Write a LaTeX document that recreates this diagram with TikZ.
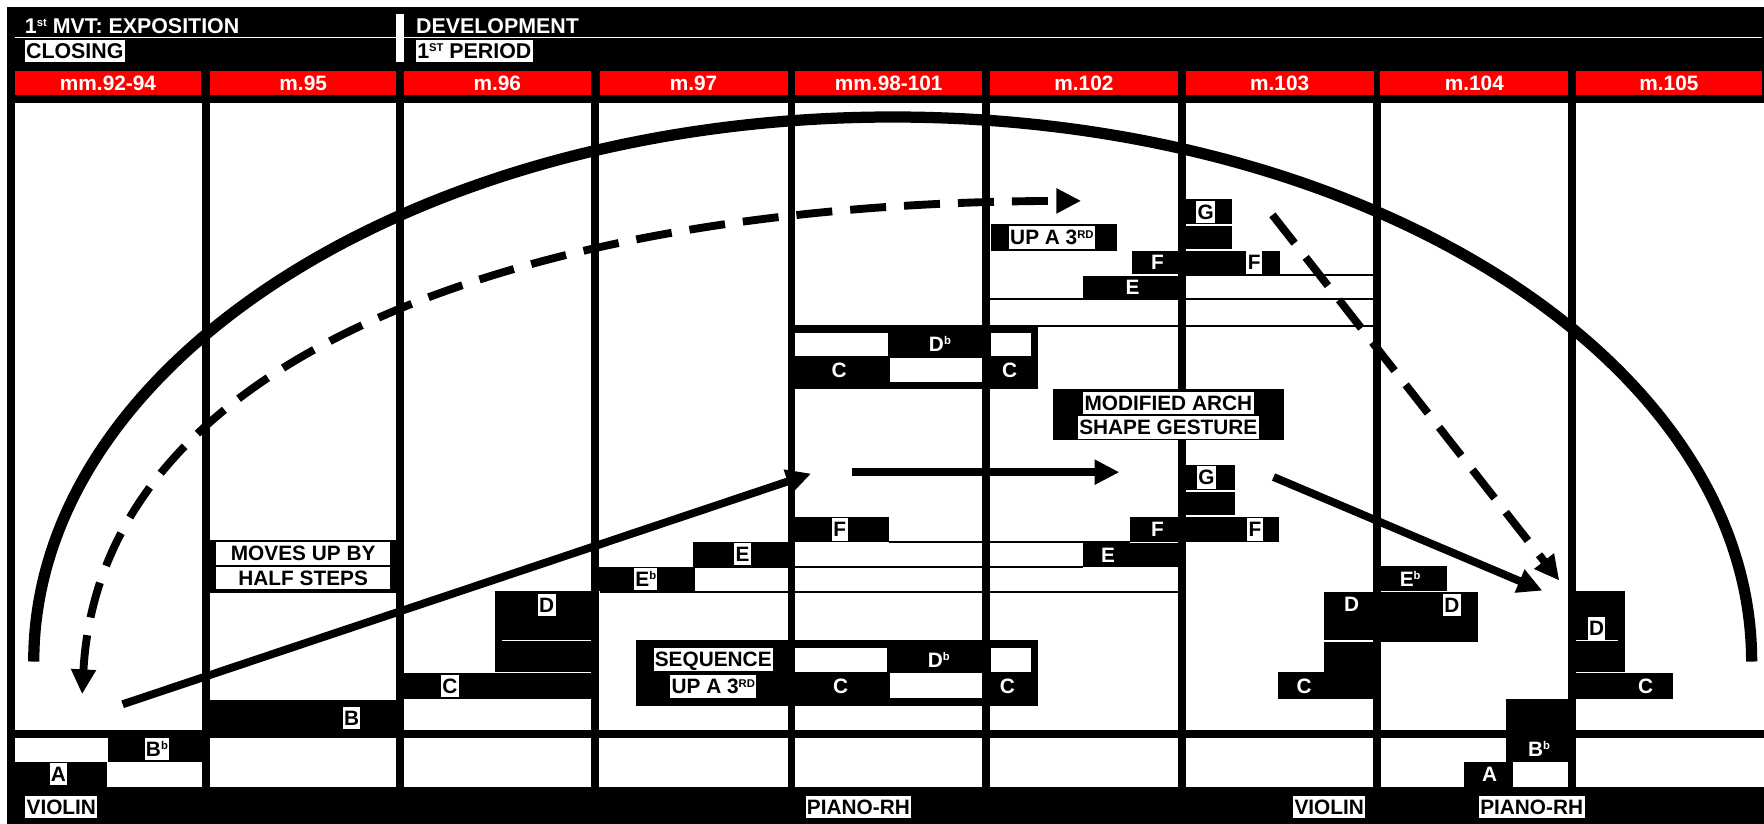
\documentclass[tikz,border=0pt]{standalone}
\usepackage{fontspec}
\setmainfont{Liberation Sans}
\usetikzlibrary{arrows.meta}
\newcommand{\supr}[1]{\raisebox{6pt}{\fontsize{10}{10}\selectfont #1}}
\newcommand{\lf}{\fontsize{18.5}{20}\selectfont\bfseries}
\begin{document}
\begin{tikzpicture}[x=1pt,y=-1pt,
  wl/.style={fill=white,text=black,font=\lf,inner xsep=1.2pt,inner ysep=3.3pt,text height=13.3pt,text depth=0pt},
  bl/.style={text=white,font=\lf,inner xsep=1pt,inner ysep=3.3pt,text height=13.3pt,text depth=0pt},
  hd/.style={text=white,font=\fontsize{19}{20}\selectfont\bfseries,anchor=base west,inner sep=0pt},
  hw/.style={fill=white,text=black,font=\fontsize{19}{20}\selectfont\bfseries,anchor=west,inner xsep=1pt,inner ysep=2.8pt,text height=13.6pt,text depth=0pt},
  thinl/.style={line width=1.6pt},
  arr/.style={line width=7pt,-{Triangle[length=22pt,width=21pt]}},
  darr/.style={line width=7pt,dash pattern=on 32pt off 16pt},
]
\useasboundingbox (0,0) rectangle (1568,732);
\fill[white] (0,0) rectangle (1568,732);
% ---------- header ----------
\fill[black] (6,6) rectangle (1568,91.3);
\fill[white] (13,32.5) rectangle (1566,34);
\fill[white] (352,12.4) rectangle (359,54.8);
\node[hd] (h1) at (22,29.6) {1\supr{st} MVT: EXPOSITION};
\node[hd] (h2) at (369.7,29.6) {DEVELOPMENT};
\node[hw] (h3) at (22,45.2) {CLOSING};
\node[hw] (h4) at (369.7,45.2) {1\supr{ST} PERIOD};
\foreach \a/\b/\t in {13/179/mm.92-94, 187/352/m.95, 359/525/m.96, 533/700/m.97, 707/873/mm.98-101, 880/1047/m.102, 1054/1221/m.103, 1227/1394/m.104, 1401/1566/m.105}{
  \fill[red] (\a,63.1) rectangle (\b,84.4);
  \node[bl,inner ysep=0pt] (red\a) at ({(\a+\b)/2},73.75) {\t};
}
% ---------- frame ----------
\fill[black] (6,84) rectangle (13,732);
\fill[black] (6,648.9) rectangle (1568,655.6);
\fill[black] (6,699.5) rectangle (1568,732);
% ---------- lower blocks ----------
\fill[black] (13,677) rectangle (95,699.5);
\fill[black] (96,655.4) rectangle (183,677);
\fill[black] (183,622) rectangle (355,649);
\fill[black] (355,598.5) rectangle (529,621);
\fill[black] (440,525.3) rectangle (529,597.5);
\fill[white] (446,568.5) rectangle (526,569.8);
\fill[white] (440,597) rectangle (526,598.5);
\fill[black] (529,503.7) rectangle (618,525.5);
\fill[black] (616,481.5) rectangle (703,503.7);
\fill[black] (703,459.8) rectangle (790,481.5);
% sequence block
\fill[black] (565,569) rectangle (923,627.5);
\fill[white] (706.6,576.3) rectangle (788.7,597);
\fill[white] (880.6,576.3) rectangle (916,597);
\fill[white] (791,598.5) rectangle (873,620.7);
% upper sequence block
\fill[black] (703,289) rectangle (923,346);
\fill[white] (706.6,295.7) rectangle (789.6,316.2);
\fill[white] (880.6,295.7) rectangle (916,316.2);
\fill[white] (791,318) rectangle (873,339.3);
% upper right blocks
\fill[black] (880.5,199.4) rectangle (992.5,222.8);
\fill[black] (1054,177.2) rectangle (1095,199.4);
\fill[black] (1054,200.9) rectangle (1095,221.3);
\fill[black] (1006,222.8) rectangle (1047.4,243.6);
\fill[black] (1054,222.8) rectangle (1138,243.6);
\fill[black] (963,245) rectangle (1047.4,265.8);
\draw[thinl] (1054,244.3) -- (1224,244.3);
\draw[thinl] (880,266) -- (1224,266);
\draw[thinl] (923,289.7) -- (1224,289.7);
% modified arch box
\fill[black] (936,346) rectangle (1141,391);
% lower right blocks
\fill[black] (1053.3,413.3) rectangle (1097.8,435.5);
\fill[black] (1053.3,437) rectangle (1097.8,457.8);
\fill[black] (1004,459.8) rectangle (1047,481.5);
\fill[black] (1053.3,459.8) rectangle (1137.2,481.5);
\fill[black] (963,482.3) rectangle (1053,503.7);
\draw[thinl] (790,481.5) -- (1004,481.5);
\draw[thinl] (617,503.7) -- (963,503.7);
\draw[thinl] (533,525.9) -- (1050,525.9);
\fill[black] (1221,503.1) rectangle (1286,525.4);
\fill[black] (1177,526) rectangle (1224,569);
\fill[black] (1224,526) rectangle (1314,570.4);
\fill[black] (1177,570.4) rectangle (1224,597);
\fill[white] (1184,568.5) rectangle (1221,569.8);
\fill[black] (1136.3,597.6) rectangle (1224,621.6);
\fill[black] (1338.6,621.6) rectangle (1397,649);
\fill[black] (1338.6,655.4) rectangle (1397,677);
\fill[black] (1301.7,677) rectangle (1344.8,699.5);
\fill[black] (1397,525.4) rectangle (1444.4,597);
\fill[white] (1401,568.5) rectangle (1438,569.8);
\fill[white] (1401,597) rectangle (1444,598.5);
\fill[black] (1397,598.5) rectangle (1487.4,621.6);
% moves box
\fill[black] (187,480) rectangle (352,527);
% ---------- dividers ----------
\foreach \x in {183,355.5,529,703.5,876.5,1050.5,1224,1397.5}{
  \fill[black] (\x-3.5,84) rectangle (\x+3.5,732);
}
% ---------- arcs and arrows ----------
\coordinate (arcL) at (30,588);
\draw[line width=10pt] (arcL) arc[start angle=180,end angle=0,x radius=763.5pt,y radius=484pt];
\coordinate (dA) at (73,617);
\coordinate (dB) at (961,178.5);
\draw[darr,{Triangle[length=22pt,width=21pt]}-{Triangle[length=22pt,width=21pt]}] (dA) .. controls (90,310) and (480,180) .. (dB);
\coordinate (dC) at (1131,191);
\coordinate (dD) at (1386,516);
\draw[darr,-{Triangle[length=22pt,width=21pt]}] (dC) -- (dD);
\coordinate (a1s) at (109,626);
\coordinate (a1e) at (721,421);
\draw[arr] (a1s) -- (a1e);
\coordinate (a2s) at (757,419.7);
\coordinate (a2e) at (995,419.7);
\draw[arr] (a2s) -- (a2e);
\coordinate (a3s) at (1132,424);
\coordinate (a3e) at (1371,525);
\draw[arr] (a3s) -- (a3e);
% ---------- labels ----------
\node[wl] (lA1) at (52,688) {A};
\node[wl] (lBb1) at (139.5,666) {B\supr{b}};
\node[wl] (lB) at (312.5,638) {B};
\node[wl] (lC1) at (400,609.6) {C};
\node[wl] (lD1) at (486,538) {D};
\node[wl] (lEb1) at (574,514.5) {E\supr{b}};
\node[wl] (lE1) at (660,492.6) {E};
\node[wl] (lF1) at (746.5,470.6) {F};
\node[wl] (lseq) at (634,586.2) {SEQUENCE};
\node[wl] (lup1) at (634,610.2) {UP A 3\supr{RD}};
\node[bl] (lDb1) at (834.5,586.6) {D\supr{b}};
\node[bl] (lC2) at (747.3,609.6) {C};
\node[bl] (lC3) at (895.5,609.6) {C};
\node[bl] (lDb2) at (835.5,306) {D\supr{b}};
\node[bl] (lC4) at (745.8,328.6) {C};
\node[bl] (lC5) at (897.5,328.6) {C};
\node[wl] (lup2) at (935,211.1) {UP A 3\supr{RD}};
\node[wl] (lmod1) at (1038.5,358) {MODIFIED ARCH};
\node[wl] (lmod2) at (1038.5,380) {SHAPE GESTURE};
\node[wl] (lG1) at (1071.8,188.3) {G};
\node[bl] (lF2) at (1028.8,233.2) {F};
\node[wl] (lF3) at (1114.8,233.2) {F};
\node[bl] (lE2) at (1006.6,255.5) {E};
\node[wl] (lG2) at (1072.5,424.4) {G};
\node[bl] (lF4) at (1028.9,470.6) {F};
\node[wl] (lF5) at (1115.5,470.6) {F};
\node[bl] (lE3) at (985,493) {E};
\node[bl] (lEb2) at (1253.5,514.3) {E\supr{b}};
\node[bl] (lD2) at (1201.5,536.5) {D};
\node[wl] (lD3) at (1290.5,537.5) {D};
\node[bl] (lC6) at (1159.3,609.6) {C};
\node[wl] (lD4) at (1419.2,558.5) {D};
\node[bl] (lC7) at (1462.8,609.6) {C};
\node[bl] (lBb2) at (1368,666) {B\supr{b}};
\node[bl] (lA2) at (1324,688) {A};
\node[wl,minimum width=155pt] (lmv1) at (269.5,492) {MOVES UP BY};
\node[wl,minimum width=155pt] (lmv2) at (269.5,514) {HALF STEPS};
\node[wl] (lv1) at (54.5,717.5) {VIOLIN};
\node[wl] (lp1) at (763,717.5) {PIANO-RH};
\node[wl] (lv2) at (1181.5,717.5) {VIOLIN};
\node[wl] (lp2) at (1361.5,717.5) {PIANO-RH};
\end{tikzpicture}
\end{document}
